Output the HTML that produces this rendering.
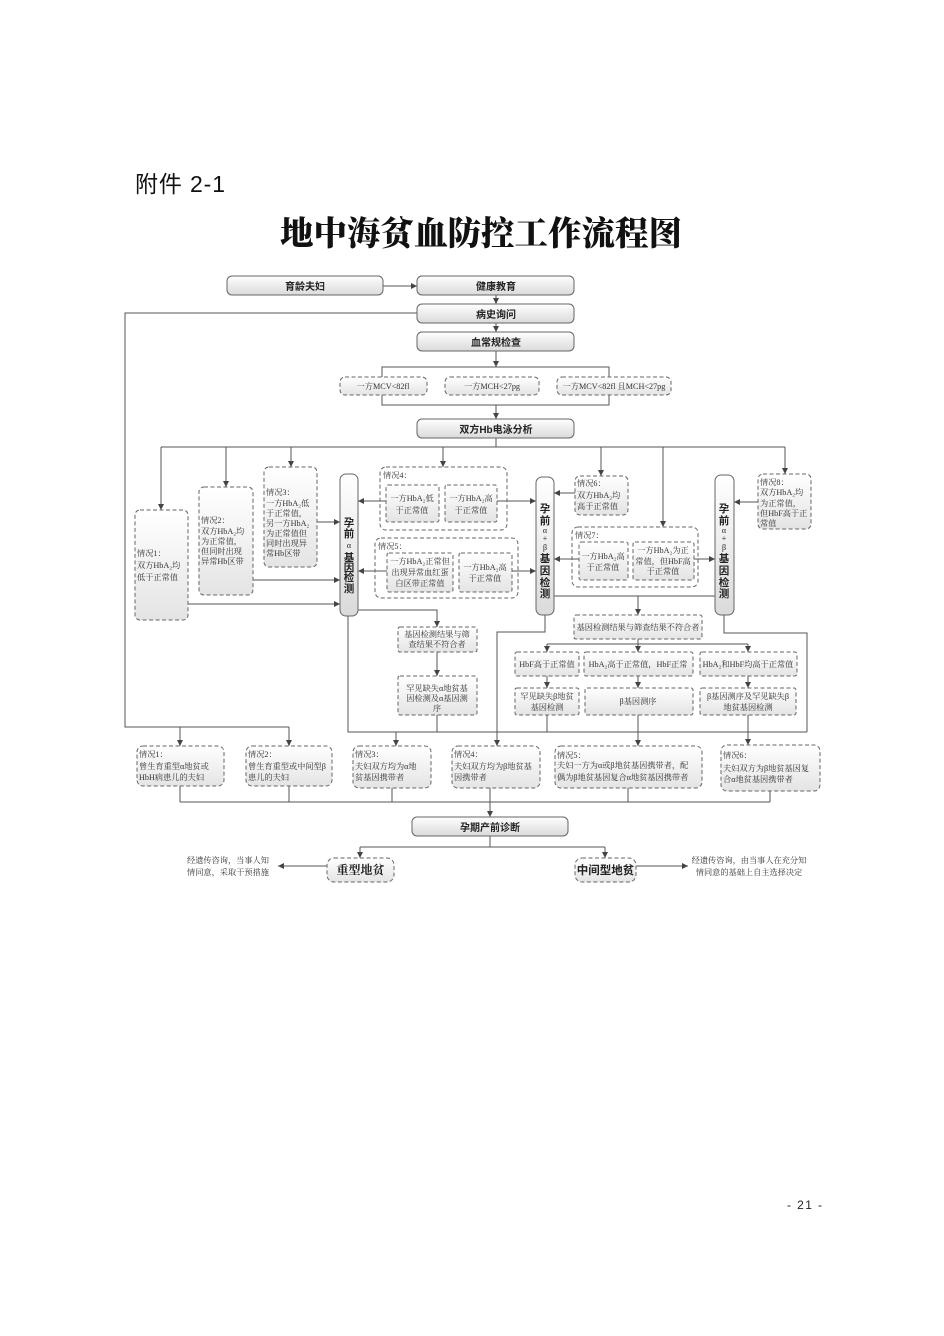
<!DOCTYPE html>
<html><head><meta charset="utf-8"><style>
html,body{margin:0;padding:0;background:#fff;}
svg{display:block;}
.t{font-family:"Liberation Serif","Noto Serif CJK SC",serif;font-size:8.2px;fill:#333;}
.c{text-anchor:middle;}
.b{font-family:"Liberation Sans","Noto Sans CJK SC",sans-serif;font-size:10px;fill:#222;text-anchor:middle;font-weight:bold;}
.v{font-family:"Liberation Sans","Noto Sans CJK SC",sans-serif;font-size:10.5px;fill:#222;text-anchor:middle;font-weight:bold;}
.vs{font-family:"Liberation Serif","DejaVu Serif",serif;font-size:8px;fill:#222;text-anchor:middle;}
.sb{fill:url(#g);stroke:#666;stroke-width:1;}
.db{fill:url(#g2);stroke:#666;stroke-width:1;stroke-dasharray:4 2.5;}
.do{fill:none;stroke:#666;stroke-width:1;stroke-dasharray:4 2.5;}
.l{stroke:#555;stroke-width:1;fill:none;}
.a{stroke:#555;stroke-width:1;fill:none;marker-end:url(#ar);}
</style></head><body>
<svg width="944" height="1336" viewBox="0 0 944 1336" xmlns="http://www.w3.org/2000/svg">
<defs>
<linearGradient id="g" x1="0" y1="0" x2="0" y2="1"><stop offset="0" stop-color="#ffffff"/><stop offset="1" stop-color="#dadada"/></linearGradient>
<linearGradient id="g2" x1="0" y1="0" x2="0" y2="1"><stop offset="0" stop-color="#ffffff"/><stop offset="1" stop-color="#e4e4e4"/></linearGradient>
<marker id="ar" markerWidth="6" markerHeight="6" refX="6" refY="3" orient="auto" markerUnits="userSpaceOnUse"><path d="M0,0 L6,3 L0,6 z" fill="#444"/></marker>
</defs>

<!-- Header -->
<text x="135" y="192" font-family="Liberation Sans,Noto Sans CJK SC,sans-serif" font-size="23" fill="#111" textLength="90">附件 2-1</text>
<text x="280" y="245" font-family="Noto Serif CJK SC,serif" font-weight="900" font-size="33.5" fill="#111" textLength="402">地中海贫血防控工作流程图</text>
<text x="787" y="1209" font-family="Liberation Sans,sans-serif" font-size="12" fill="#222" textLength="35">- 21 -</text>

<!-- connectors -->
<line class="a" x1="383" y1="286" x2="417" y2="286"/>
<line class="a" x1="496" y1="295" x2="496" y2="304"/>
<line class="a" x1="496" y1="323" x2="496" y2="332"/>
<line class="a" x1="496" y1="351" x2="496" y2="367"/>
<path class="l" d="M382,367 H609 V405 H382 Z"/>
<line class="a" x1="496" y1="405" x2="496" y2="419"/>
<line class="l" x1="496" y1="438" x2="496" y2="447"/>
<line class="l" x1="161" y1="447" x2="785" y2="447"/>
<line class="a" x1="161" y1="447" x2="161" y2="510"/>
<line class="a" x1="226" y1="447" x2="226" y2="487"/>
<line class="a" x1="291" y1="447" x2="291" y2="467"/>
<line class="a" x1="443" y1="447" x2="443" y2="467"/>
<line class="a" x1="601" y1="447" x2="601" y2="476"/>
<line class="a" x1="663" y1="447" x2="663" y2="527"/>
<line class="a" x1="785" y1="447" x2="785" y2="474"/>
<path class="l" d="M417,313 H125 V727 H289"/>
<line class="a" x1="180" y1="727" x2="180" y2="746"/>
<line class="a" x1="289" y1="727" x2="289" y2="746"/>
<line class="a" x1="317" y1="522" x2="340" y2="522"/>
<line class="a" x1="253" y1="580" x2="340" y2="580"/>
<line class="a" x1="188" y1="604" x2="340" y2="604"/>
<line class="a" x1="386" y1="501" x2="358" y2="501"/>
<line class="a" x1="497" y1="501" x2="536" y2="501"/>
<line class="a" x1="387" y1="571" x2="358" y2="571"/>
<line class="a" x1="512" y1="571" x2="536" y2="571"/>
<line class="a" x1="575" y1="493" x2="554" y2="493"/>
<line class="a" x1="579" y1="559" x2="554" y2="559"/>
<line class="a" x1="694" y1="559" x2="715" y2="559"/>
<line class="a" x1="758" y1="502" x2="734" y2="502"/>
<path class="a" d="M358,610 H437 V627"/>
<line class="a" x1="437" y1="652" x2="437" y2="676"/>
<line class="l" x1="437" y1="715" x2="437" y2="732"/>
<path class="l" d="M348,616 V732 H497"/>
<path class="a" d="M545,615 V632 H497 V746"/>
<line class="a" x1="396" y1="732" x2="396" y2="746"/>
<line class="l" x1="554" y1="596" x2="715" y2="596"/>
<line class="a" x1="638" y1="596" x2="638" y2="615"/>
<line class="l" x1="638" y1="639" x2="638" y2="644"/>
<line class="l" x1="547" y1="644" x2="748" y2="644"/>
<line class="a" x1="547" y1="644" x2="547" y2="652"/>
<line class="a" x1="638" y1="644" x2="638" y2="652"/>
<line class="a" x1="748" y1="644" x2="748" y2="652"/>
<line class="a" x1="547" y1="676" x2="547" y2="688"/>
<line class="a" x1="638" y1="676" x2="638" y2="688"/>
<line class="a" x1="748" y1="676" x2="748" y2="688"/>
<line class="l" x1="547" y1="715" x2="547" y2="732"/>
<line class="l" x1="497" y1="732" x2="807" y2="732"/>
<path class="l" d="M724,615 V633 H807 V732"/>
<line class="a" x1="638" y1="715" x2="638" y2="746"/>
<line class="a" x1="748" y1="715" x2="748" y2="745"/>
<line class="l" x1="180" y1="786" x2="180" y2="802"/>
<line class="l" x1="289" y1="786" x2="289" y2="802"/>
<line class="l" x1="392" y1="788" x2="392" y2="802"/>
<line class="l" x1="490" y1="788" x2="490" y2="802"/>
<line class="l" x1="628" y1="788" x2="628" y2="802"/>
<line class="l" x1="770" y1="791" x2="770" y2="802"/>
<line class="l" x1="180" y1="802" x2="770" y2="802"/>
<line class="a" x1="490" y1="802" x2="490" y2="817"/>
<line class="l" x1="490" y1="836" x2="490" y2="847"/>
<line class="l" x1="360" y1="847" x2="605" y2="847"/>
<line class="a" x1="360" y1="847" x2="360" y2="858"/>
<line class="a" x1="605" y1="847" x2="605" y2="858"/>
<line class="a" x1="327" y1="866" x2="278" y2="866"/>
<line class="a" x1="636" y1="866" x2="688" y2="866"/>

<!-- solid boxes -->
<rect class="sb" x="227" y="276" width="156" height="19" rx="5"/>
<rect class="sb" x="417" y="276" width="157" height="19" rx="5"/>
<rect class="sb" x="417" y="304" width="157" height="19" rx="5"/>
<rect class="sb" x="417" y="332" width="157" height="19" rx="5"/>
<rect class="sb" x="417" y="419" width="157" height="19" rx="5"/>
<rect class="sb" x="412" y="817" width="156" height="19" rx="5"/>
<rect class="sb" x="340" y="474" width="18" height="142" rx="6"/>
<rect class="sb" x="536" y="477" width="18" height="138" rx="6"/>
<rect class="sb" x="715" y="475" width="19" height="140" rx="6"/>
<text class="b" x="305" y="290">育龄夫妇</text>
<text class="b" x="496" y="290">健康教育</text>
<text class="b" x="496" y="318">病史询问</text>
<text class="b" x="496" y="346">血常规检查</text>
<text class="b" x="496" y="433">双方<tspan font-weight="bold">Hb</tspan>电泳分析</text>
<text class="b" x="490" y="831">孕期产前诊断</text>

<!-- vertical texts -->
<text class="v" x="349" y="526">孕</text><text class="v" x="349" y="537">前</text><text class="vs" x="349" y="548">α</text><text class="v" x="349" y="561">基</text><text class="v" x="349" y="571">因</text><text class="v" x="349" y="581">检</text><text class="v" x="349" y="592">测</text>
<text class="v" x="545" y="512">孕</text><text class="v" x="545" y="524">前</text><text class="vs" x="545" y="533">α</text><text class="vs" x="545" y="541">+</text><text class="vs" x="545" y="550">β</text><text class="v" x="545" y="562">基</text><text class="v" x="545" y="574">因</text><text class="v" x="545" y="586">检</text><text class="v" x="545" y="597">测</text>
<text class="v" x="724" y="512">孕</text><text class="v" x="724" y="524">前</text><text class="vs" x="724" y="533">α</text><text class="vs" x="724" y="541">+</text><text class="vs" x="724" y="550">β</text><text class="v" x="724" y="562">基</text><text class="v" x="724" y="574">因</text><text class="v" x="724" y="586">检</text><text class="v" x="724" y="597">测</text>

<!-- MCV row -->
<rect class="db" x="340" y="377" width="87" height="18" rx="5"/>
<rect class="db" x="445" y="377" width="94" height="18" rx="5"/>
<rect class="db" x="557" y="377" width="114" height="18" rx="5"/>
<text class="t c" x="383" y="389">一方MCV&lt;82fl</text>
<text class="t c" x="492" y="389">一方MCH&lt;27pg</text>
<text class="t c" x="614" y="389">一方MCV&lt;82fl 且MCH&lt;27pg</text>

<!-- left cases -->
<rect class="db" x="135" y="510" width="53" height="110" rx="5"/>
<text class="t" x="137"><tspan x="137" y="556">情况1：</tspan><tspan x="137" y="568">双方HbA₂均</tspan><tspan x="137" y="580">低于正常值</tspan></text>
<rect class="db" x="199" y="487" width="54" height="108" rx="5"/>
<text class="t"><tspan x="201" y="523">情况2：</tspan><tspan x="201" y="534">双方HbA₂均</tspan><tspan x="201" y="544">为正常值，</tspan><tspan x="201" y="554">但同时出现</tspan><tspan x="201" y="564">异常Hb区带</tspan></text>
<rect class="db" x="264" y="467" width="53" height="100" rx="5"/>
<text class="t"><tspan x="266" y="495">情况3：</tspan><tspan x="266" y="506">一方HbA₂低</tspan><tspan x="266" y="516">于正常值，</tspan><tspan x="266" y="526">另一方HbA₂</tspan><tspan x="266" y="536">为正常值但</tspan><tspan x="266" y="546">同时出现异</tspan><tspan x="266" y="556">常Hb区带</tspan></text>

<!-- case 4 -->
<rect class="do" x="380" y="467" width="127" height="63" rx="6"/>
<text class="t" x="383" y="478">情况4：</text>
<rect class="db" x="386" y="485" width="53" height="37" rx="2"/>
<rect class="db" x="445" y="485" width="52" height="37" rx="2"/>
<text class="t c"><tspan x="412" y="501">一方HbA₂低</tspan><tspan x="412" y="513">于正常值</tspan></text>
<text class="t c"><tspan x="471" y="501">一方HbA₂高</tspan><tspan x="471" y="513">于正常值</tspan></text>
<!-- case 5 -->
<rect class="do" x="375" y="538" width="143" height="60" rx="6"/>
<text class="t" x="378" y="549">情况5：</text>
<rect class="db" x="387" y="553" width="66" height="39" rx="2"/>
<rect class="db" x="459" y="553" width="53" height="39" rx="2"/>
<text class="t c"><tspan x="420" y="564">一方HbA₂正常但</tspan><tspan x="420" y="575">出现异常血红蛋</tspan><tspan x="420" y="586">白区带正常值</tspan></text>
<text class="t c"><tspan x="485" y="570">一方HbA₂高</tspan><tspan x="485" y="581">于正常值</tspan></text>

<!-- case 6,7,8 -->
<rect class="db" x="575" y="476" width="53" height="39" rx="5"/>
<text class="t"><tspan x="577" y="486">情况6：</tspan><tspan x="577" y="498">双方HbA₂均</tspan><tspan x="577" y="509">高于正常值</tspan></text>
<rect class="do" x="572" y="527" width="126" height="60" rx="6"/>
<text class="t" x="575" y="538">情况7：</text>
<rect class="db" x="579" y="542" width="49" height="38" rx="2"/>
<rect class="db" x="633" y="542" width="61" height="38" rx="2"/>
<text class="t c"><tspan x="603" y="559">一方HbA₂高</tspan><tspan x="603" y="570">于正常值</tspan></text>
<text class="t c"><tspan x="663" y="553">一方HbA₂为正</tspan><tspan x="663" y="564">常值，但HbF高</tspan><tspan x="663" y="574">于正常值</tspan></text>
<rect class="db" x="758" y="474" width="53" height="55" rx="5"/>
<text class="t"><tspan x="760" y="485">情况8：</tspan><tspan x="760" y="495">双方HbA₂均</tspan><tspan x="760" y="506">为正常值，</tspan><tspan x="760" y="516">但HbF高于正</tspan><tspan x="760" y="526">常值</tspan></text>

<!-- alpha result path -->
<rect class="db" x="398" y="627" width="79" height="25" rx="2"/>
<text class="t c"><tspan x="437" y="637">基因检测结果与筛</tspan><tspan x="437" y="647">查结果不符合者</tspan></text>
<rect class="db" x="398" y="676" width="79" height="39" rx="2"/>
<text class="t c"><tspan x="437" y="691">罕见缺失α地贫基</tspan><tspan x="437" y="701">因检测及α基因测</tspan><tspan x="437" y="711">序</tspan></text>

<!-- beta result path -->
<rect class="db" x="574" y="615" width="128" height="24" rx="2"/>
<text class="t c" x="638" y="630">基因检测结果与筛查结果不符合者</text>
<rect class="db" x="515" y="652" width="64" height="24" rx="2"/>
<rect class="db" x="584" y="652" width="109" height="24" rx="2"/>
<rect class="db" x="700" y="652" width="97" height="24" rx="2"/>
<text class="t c" x="547" y="667">HbF高于正常值</text>
<text class="t c" x="638" y="667">HbA₂高于正常值，HbF正常</text>
<text class="t c" x="748" y="667">HbA₂和HbF均高于正常值</text>
<rect class="db" x="515" y="688" width="64" height="27" rx="2"/>
<rect class="db" x="585" y="688" width="108" height="27" rx="2"/>
<rect class="db" x="700" y="688" width="96" height="27" rx="2"/>
<text class="t c"><tspan x="547" y="699">罕见缺失β地贫</tspan><tspan x="547" y="710">基因检测</tspan></text>
<text class="t c" x="638" y="704">β基因测序</text>
<text class="t c"><tspan x="748" y="699">β基因测序及罕见缺失β</tspan><tspan x="748" y="710">地贫基因检测</tspan></text>

<!-- bottom cases -->
<rect class="db" x="137" y="746" width="87" height="40" rx="6"/>
<text class="t"><tspan x="139" y="757">情况1：</tspan><tspan x="139" y="769">曾生育重型α地贫或</tspan><tspan x="139" y="780">HbH病患儿的夫妇</tspan></text>
<rect class="db" x="246" y="746" width="86" height="40" rx="6"/>
<text class="t"><tspan x="248" y="757">情况2：</tspan><tspan x="248" y="769">曾生育重型或中间型β</tspan><tspan x="248" y="780">患儿的夫妇</tspan></text>
<rect class="db" x="353" y="746" width="78" height="42" rx="6"/>
<text class="t"><tspan x="355" y="757">情况3：</tspan><tspan x="355" y="769">夫妇双方均为α地</tspan><tspan x="355" y="780">贫基因携带者</tspan></text>
<rect class="db" x="452" y="746" width="88" height="42" rx="6"/>
<text class="t"><tspan x="454" y="757">情况4：</tspan><tspan x="454" y="769">夫妇双方均为β地贫基</tspan><tspan x="454" y="780">因携带者</tspan></text>
<rect class="db" x="555" y="746" width="147" height="42" rx="6"/>
<text class="t"><tspan x="557" y="758">情况5：</tspan><tspan x="557" y="768">夫妇一方为α或β地贫基因携带者，配</tspan><tspan x="557" y="780">偶为β地贫基因复合α地贫基因携带者</tspan></text>
<rect class="db" x="721" y="745" width="99" height="46" rx="6"/>
<text class="t"><tspan x="723" y="758">情况6：</tspan><tspan x="723" y="771">夫妇双方为β地贫基因复</tspan><tspan x="723" y="782">合α地贫基因携带者</tspan></text>

<!-- final -->
<rect class="db" x="327" y="858" width="67" height="24" rx="7"/>
<text x="360.5" y="874" text-anchor="middle" font-family="Noto Serif CJK SC,serif" font-weight="bold" font-size="12" fill="#222">重型地贫</text>
<rect class="db" x="575" y="858" width="61" height="24" rx="7"/>
<text x="605.5" y="874" text-anchor="middle" font-family="Noto Sans CJK SC,sans-serif" font-weight="bold" font-size="11.5" fill="#222">中间型地贫</text>
<text class="t" font-size="8"><tspan x="187" y="863">经遗传咨询，当事人知</tspan><tspan x="187" y="875">情同意，采取干预措施</tspan></text>
<text class="t c" font-size="8"><tspan x="749" y="863">经遗传咨询，由当事人在充分知</tspan><tspan x="749" y="875">情同意的基础上自主选择决定</tspan></text>
</svg>
</body></html>
